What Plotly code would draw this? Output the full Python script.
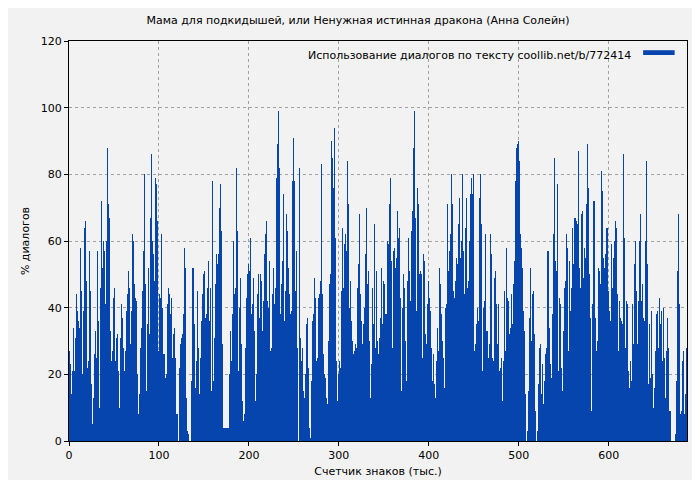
import numpy as np
import plotly.graph_objects as go

# % of dialogue per ~1.1k characters, read left to right from the picture
part1 = [27, 23, 14, 21, 34, 21, 31, 44, 39, 36, 34, 58, 45, 20, 39, 64, 66, 48, 22, 24,
         57, 45, 17, 5, 13, 26, 33, 25, 57, 36, 10, 46, 72, 52, 60, 57, 41, 60, 88, 71,
         67, 33, 24, 27, 43, 46, 24, 31, 32, 21, 10, 31, 41, 37, 28, 21, 27, 39, 44, 51,
         46, 29, 39, 62, 60, 47, 43, 42, 20, 8, 14, 28, 34, 45, 57, 80, 47, 15, 35, 52,
         32, 67, 86, 60, 56, 48, 79, 77, 66, 27, 44, 43, 62, 40, 26, 26, 19, 20, 41, 46,
         44, 38, 43, 25, 32, 34, 25, 8, 8, 0, 22, 29, 31, 32, 38, 58, 52, 13, 3, 2,
         0, 0, 18, 52, 52, 35, 16, 24, 45, 28, 14, 25, 36, 44, 50, 51, 37, 38, 46, 54,
         36, 46, 15, 78, 18, 31, 47, 56, 53, 56, 70, 77, 63, 29, 4, 4, 4, 4, 4, 4]
part2 = [20, 33, 24, 38, 60, 44, 46, 82, 63, 21, 40, 49, 29, 12, 6, 8, 28, 43, 50, 53,
         51, 61, 38, 41, 49, 33, 12, 20, 44, 50, 37, 50, 48, 33, 42, 56, 62, 66, 42, 40,
         54, 27, 28, 44, 52, 41, 46, 79, 89, 99, 82, 38, 47, 54, 74, 36, 45, 68, 63, 52,
         44, 38, 39, 78, 91, 78, 45, 57, 28, 0, 82, 31, 24, 28, 15, 13, 20, 35, 37, 22,
         4, 1, 18, 36, 38, 49, 43, 24, 25, 43, 44, 48, 83, 44, 26, 20, 19, 13, 11, 30,
         47, 50, 90, 85, 76, 94, 61, 24, 12, 20, 24, 22, 45, 64, 46, 59, 62, 57, 84, 71,
         40, 48, 36, 30, 26, 27, 29, 28, 46, 53, 68, 44, 36, 29, 35, 40, 56, 70, 47, 51,
         30, 13, 23, 46, 35, 65, 28, 51, 30, 26, 31, 37, 52, 35, 48, 47, 38, 38, 60, 59]
part3 = [71, 79, 54, 28, 57, 58, 52, 55, 69, 61, 64, 43, 15, 40, 50, 46, 30, 18, 48, 61,
         51, 42, 63, 69, 88, 99, 67, 39, 76, 71, 50, 51, 50, 25, 56, 54, 32, 29, 41, 48,
         43, 39, 28, 18, 26, 17, 13, 24, 34, 27, 52, 47, 38, 30, 25, 16, 40, 41, 71, 51,
         57, 62, 80, 71, 45, 43, 48, 55, 53, 65, 73, 55, 60, 80, 57, 44, 64, 73, 46, 48,
         60, 74, 79, 74, 80, 27, 29, 35, 40, 36, 73, 80, 65, 21, 40, 42, 62, 33, 33, 25,
         29, 62, 56, 25, 24, 49, 51, 41, 29, 41, 21, 22, 25, 12, 24, 45, 27, 58, 43, 42,
         32, 34, 44, 35, 47, 54, 78, 88, 89, 90, 84, 62, 58, 52, 39, 33, 14, 0, 3, 15,
         37, 52, 30, 44, 45, 32, 9, 0, 3, 17, 28, 29, 14, 23, 11, 18, 26, 28, 57, 57]
part4 = [34, 23, 19, 38, 62, 85, 54, 51, 77, 21, 43, 41, 22, 15, 33, 46, 48, 62, 58, 27,
         54, 39, 46, 64, 53, 67, 67, 66, 65, 87, 52, 46, 68, 69, 49, 58, 55, 71, 89, 76,
         50, 37, 9, 41, 72, 72, 37, 27, 30, 52, 51, 47, 81, 75, 55, 52, 56, 64, 64, 45,
         39, 36, 59, 46, 55, 60, 66, 64, 44, 27, 42, 37, 36, 35, 86, 61, 28, 42, 41, 21,
         16, 24, 18, 41, 29, 53, 60, 45, 29, 42, 60, 68, 42, 47, 37, 36, 60, 84, 53, 17,
         35, 19, 39, 20, 10, 16, 27, 38, 39, 28, 43, 35, 39, 24, 40, 25, 13, 27, 37, 28,
         9, 9, 0, 0, 0, 0, 2, 18, 51, 68, 41, 8, 9, 24, 27, 8, 14, 28]

dialog_pct = part1 + part2 + part3 + part4
total_k = 687
step = total_k / len(dialog_pct)
counter_k = (np.arange(len(dialog_pct)) + 0.5) * step

legend_text = "Использование диалогов по тексту coollib.net/b/772414"
title_text = "Мама для подкидышей, или Ненужная истинная дракона (Анна Солейн)"

blue = "#0645ad"
font = "DejaVu Sans"

fig = go.Figure(go.Bar(x=counter_k, y=dialog_pct, width=step, marker_color=blue,
                       marker_line_width=0, showlegend=False))

axis_common = dict(showline=True, linecolor="black", linewidth=1, mirror=True,
                   gridcolor="#a0a0a0", griddash="dot", gridwidth=1,
                   ticks="outside", ticklen=4, tickcolor="black", zeroline=False,
                   tickfont=dict(size=11, color="black"))
fig.update_xaxes(range=[0, total_k], dtick=100, title=dict(text="Счетчик знаков (тыс.)", standoff=6,
                 font=dict(size=11)), **axis_common)
fig.update_yaxes(range=[0, 120], dtick=20, title=dict(text="% диалогов", standoff=8,
                 font=dict(size=11)), **axis_common)

fig.update_layout(
    width=700, height=480,
    margin=dict(l=61, r=21, t=33, b=41),
    paper_bgcolor="#f2f2f2", plot_bgcolor="#f2f2f2",
    font=dict(family=font, size=11, color="black"),
    bargap=0,
    title=dict(text=title_text, x=0.5, xanchor="center", y=0.975, yanchor="middle",
               font=dict(size=11)),
    annotations=[dict(text=legend_text, x=0.912, y=0.985, xref="paper", yref="paper",
                      xanchor="right", yanchor="top", showarrow=False, font=dict(size=11))],
    shapes=[dict(type="rect", xref="paper", yref="paper", x0=0.929, x1=0.98,
                 y0=0.965, y1=0.977, fillcolor=blue, line_width=0)],
)

fig.write_html("out.html")
